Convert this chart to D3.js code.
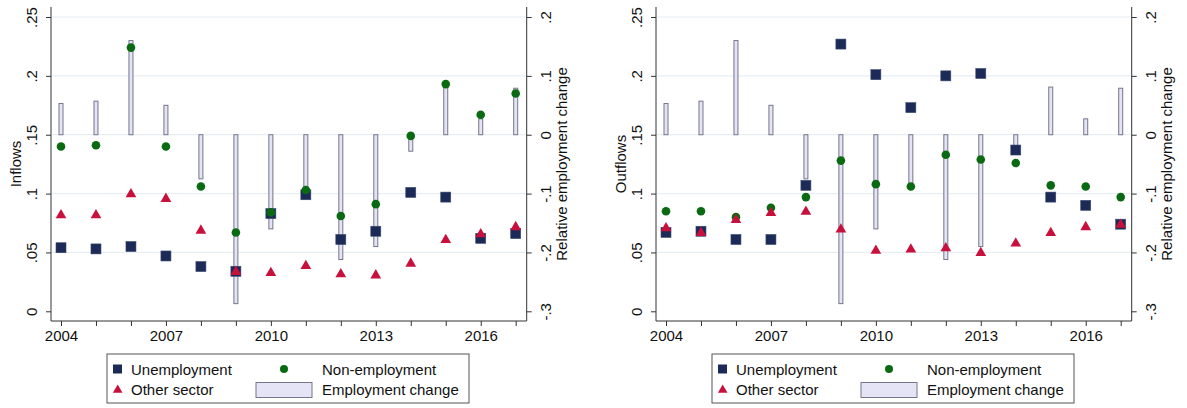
<!DOCTYPE html>
<html>
<head>
<meta charset="utf-8">
<script src="https://cdn.jsdelivr.net/npm/d3@7"></script>
<style>
  html, body { margin: 0; padding: 0; background: #fff; }
  svg { display: block; font-family: "Liberation Sans", Arial, sans-serif; }
</style>
</head>
<body>
<svg id="chart" width="1187" height="408"></svg>
<script>
// Years on the horizontal axis
const years = [2004, 2005, 2006, 2007, 2008, 2009, 2010, 2011, 2012, 2013, 2014, 2015, 2016, 2017];
const yearTicks = [2004, 2007, 2010, 2013, 2016];

// Relative employment change (right axis), shared by both panels
const employmentChange = [0.053, 0.057, 0.160, 0.050, -0.075, -0.287, -0.160, -0.090, -0.212, -0.190, -0.028, 0.081, 0.027, 0.079];

// Inflows by origin
const inflowUnemployment = [0.054, 0.053, 0.055, 0.047, 0.038, 0.034, 0.083, 0.099, 0.061, 0.068, 0.101, 0.097, 0.062, 0.066];
const inflowNonEmployment = [0.140, 0.141, 0.224, 0.140, 0.106, 0.067, 0.084, 0.103, 0.081, 0.091, 0.149, 0.193, 0.167, 0.185];
const inflowOtherSector = [0.082, 0.082, 0.100, 0.096, 0.069, 0.034, 0.033, 0.039, 0.032, 0.031, 0.041, 0.061, 0.066, 0.072];

// Outflows by destination
const outflowUnemployment = [0.067, 0.068, 0.061, 0.061, 0.107, 0.227, 0.201, 0.173, 0.200, 0.202, 0.137, 0.097, 0.090, 0.074];
const outflowNonEmployment = [0.085, 0.085, 0.080, 0.088, 0.097, 0.128, 0.108, 0.106, 0.133, 0.129, 0.126, 0.107, 0.106, 0.097];
const outflowOtherSector = [0.071, 0.067, 0.078, 0.084, 0.085, 0.070, 0.052, 0.053, 0.054, 0.050, 0.058, 0.067, 0.072, 0.074];

const leftTicks = [0, 0.05, 0.1, 0.15, 0.2, 0.25];
const rightTicks = [-0.3, -0.2, -0.1, 0, 0.1, 0.2];
const legendLabels = ["Unemployment", "Non-employment", "Other sector", "Employment change"];

const colors = {
  unemp: "#1b2a56",
  nonemp: "#0a6a12",
  other: "#c8103c",
  barFill: "#e4e4f6",
  barStroke: "#76768a",
  grid: "#e6eef2",
  axis: "#333"
};

const panels = [
  { offset: 0, title: "Inflows", unemp: inflowUnemployment, nonemp: inflowNonEmployment, other: inflowOtherSector },
  { offset: 605, title: "Outflows", unemp: outflowUnemployment, nonemp: outflowNonEmployment, other: outflowOtherSector }
];

const svg = d3.select("#chart");

const fmt = v => {
  if (v === 0) return "0";
  let s = String(+v.toFixed(2));
  return s.replace(/^0\./, ".").replace(/^-0\./, "-.");
};

panels.forEach(p => {
  const o = p.offset;
  const plotLeft = 51 + o, plotRight = 526.7 + o, plotTop = 7, plotBottom = 321;
  const x = d3.scaleLinear().domain([2004, 2017]).range([61 + o, 515.7 + o]);
  const yL = d3.scaleLinear().domain([0, 0.25]).range([311.3, 17]);
  const yR = d3.scaleLinear().domain([-0.3, 0.2]).range([311.3, 17]);

  const g = svg.append("g");

  // horizontal gridlines at the left-axis ticks
  g.selectAll(".grid").data(leftTicks.filter(t => t > 0)).join("line")
    .attr("x1", plotLeft + 1).attr("x2", plotRight - 1)
    .attr("y1", d => yL(d)).attr("y2", d => yL(d))
    .attr("stroke", colors.grid).attr("stroke-width", 1.2);

  // employment change bars
  const bw = 4;
  g.selectAll(".bar").data(years.map((yr, i) => ({ yr, v: employmentChange[i] }))).join("rect")
    .attr("x", d => x(d.yr) - bw / 2)
    .attr("width", bw)
    .attr("y", d => Math.min(yR(0), yR(d.v)))
    .attr("height", d => Math.abs(yR(d.v) - yR(0)))
    .attr("fill", colors.barFill)
    .attr("stroke", colors.barStroke)
    .attr("stroke-width", 1);

  // unemployment squares
  const sq = 10;
  g.selectAll(".sq").data(years.map((yr, i) => ({ yr, v: p.unemp[i] }))).join("rect")
    .attr("x", d => x(d.yr) - sq / 2).attr("y", d => yL(d.v) - sq / 2)
    .attr("width", sq).attr("height", sq)
    .attr("fill", colors.unemp)
    .attr("stroke", "#3a4a70").attr("stroke-width", 0.6);

  // non-employment circles
  g.selectAll(".ci").data(years.map((yr, i) => ({ yr, v: p.nonemp[i] }))).join("circle")
    .attr("cx", d => x(d.yr)).attr("cy", d => yL(d.v)).attr("r", 4.3)
    .attr("fill", colors.nonemp);

  // other-sector triangles
  const tri = d3.symbol().type(d3.symbolTriangle).size(50);
  g.selectAll(".tr").data(years.map((yr, i) => ({ yr, v: p.other[i] }))).join("path")
    .attr("d", tri)
    .attr("transform", d => `translate(${x(d.yr)},${yL(d.v) + 0.5})`)
    .attr("fill", colors.other);

  // left axis
  const axL = g.append("g").attr("transform", `translate(${plotLeft},0)`)
    .call(d3.axisLeft(yL).tickValues(leftTicks).tickFormat(fmt).tickSize(5).tickPadding(3));
  axL.select(".domain").attr("d", `M0,${plotTop}V${plotBottom}`).attr("stroke", colors.axis);
  axL.selectAll(".tick line").attr("stroke", colors.axis);
  axL.selectAll(".tick text")
    .attr("font-size", 15).attr("fill", "#111")
    .attr("text-anchor", "middle").attr("dy", null)
    .attr("transform", "translate(-18,0) rotate(-90)")
    .attr("x", 0).attr("y", 0).attr("dominant-baseline", "middle");

  // right axis
  const axR = g.append("g").attr("transform", `translate(${plotRight},0)`)
    .call(d3.axisRight(yR).tickValues(rightTicks).tickFormat(fmt).tickSize(5));
  axR.select(".domain").attr("d", `M0,${plotTop}V${plotBottom}`).attr("stroke", colors.axis);
  axR.selectAll(".tick line").attr("stroke", colors.axis);
  axR.selectAll(".tick text")
    .attr("font-size", 15).attr("fill", "#111")
    .attr("text-anchor", "middle").attr("dy", null)
    .attr("transform", "translate(20,0) rotate(-90)")
    .attr("x", 0).attr("y", 0).attr("dominant-baseline", "middle");

  // bottom axis
  const axB = g.append("g").attr("transform", `translate(0,${plotBottom})`)
    .call(d3.axisBottom(x).tickValues(years).tickFormat(d => yearTicks.includes(d) ? d : "").tickSize(5).tickPadding(4));
  axB.select(".domain").attr("d", `M${plotLeft},0H${plotRight}`).attr("stroke", colors.axis);
  axB.selectAll(".tick line").attr("stroke", colors.axis);
  axB.selectAll(".tick text").attr("font-size", 15).attr("fill", "#111");

  // axis titles
  g.append("text")
    .attr("transform", `translate(${17 + o},164) rotate(-90)`)
    .attr("text-anchor", "middle").attr("dominant-baseline", "middle")
    .attr("font-size", 15).attr("fill", "#111")
    .text(p.title);
  g.append("text")
    .attr("transform", `translate(${563 + o},164) rotate(-90)`)
    .attr("text-anchor", "middle").attr("dominant-baseline", "middle")
    .attr("font-size", 15).attr("fill", "#111")
    .text("Relative employment change");

  // legend
  const lg = g.append("g").attr("transform", `translate(${107 + o},354)`);
  lg.append("rect").attr("width", 362).attr("height", 49)
    .attr("fill", "#fff").attr("stroke", "#555").attr("stroke-width", 1);
  lg.append("rect").attr("x", 6).attr("y", 10.5).attr("width", 9).attr("height", 9).attr("fill", colors.unemp);
  lg.append("circle").attr("cx", 177).attr("cy", 15).attr("r", 4).attr("fill", colors.nonemp);
  lg.append("path").attr("d", d3.symbol().type(d3.symbolTriangle).size(40))
    .attr("transform", "translate(10.7,36)").attr("fill", colors.other);
  lg.append("rect").attr("x", 149).attr("y", 28.5).attr("width", 56).attr("height", 15)
    .attr("fill", colors.barFill).attr("stroke", colors.barStroke);
  const lt = [
    { x: 24, y: 21, t: legendLabels[0] },
    { x: 215, y: 21, t: legendLabels[1] },
    { x: 24, y: 41, t: legendLabels[2] },
    { x: 215, y: 41, t: legendLabels[3] }
  ];
  lg.selectAll(".lt").data(lt).join("text")
    .attr("x", d => d.x).attr("y", d => d.y)
    .attr("font-size", 15).attr("fill", "#111")
    .text(d => d.t);
});
</script>
</body>
</html>
